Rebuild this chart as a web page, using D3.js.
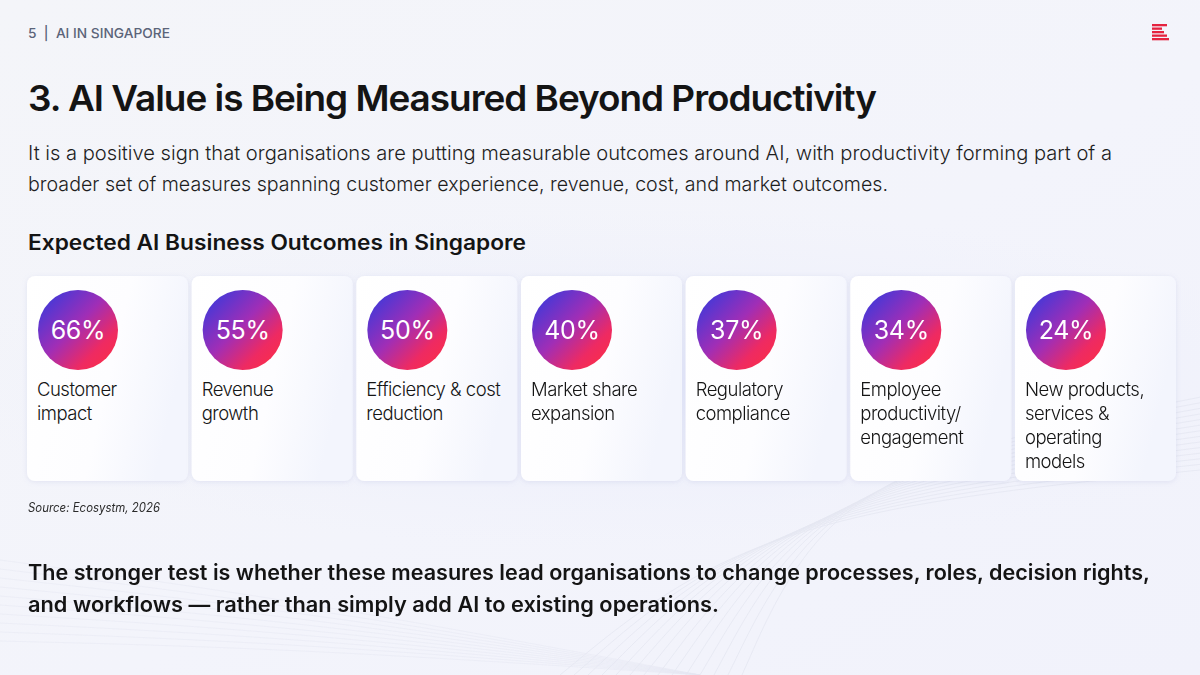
<!DOCTYPE html>
<html>
<head>
<meta charset="utf-8">
<script src="https://cdn.jsdelivr.net/npm/d3@7"></script>
<style>
  html, body { margin: 0; padding: 0; background: #f5f6fb; }
  svg { display: block; font-family: Inter, "Noto Sans", sans-serif; }
</style>
</head>
<body>
<svg id="chart" width="1200" height="675"></svg>
<script>
// ---- data ----
const categories = [
  "Customer impact",
  "Revenue growth",
  "Efficiency & cost reduction",
  "Market share expansion",
  "Regulatory compliance",
  "Employee productivity/ engagement",
  "New products, services & operating models"
];
const labelLines = [
  ["Customer", "impact"],
  ["Revenue", "growth"],
  ["Efficiency & cost", "reduction"],
  ["Market share", "expansion"],
  ["Regulatory", "compliance"],
  ["Employee", "productivity/", "engagement"],
  ["New products,", "services &", "operating", "models"]
];
const values = [66, 55, 50, 40, 37, 34, 24];
const headerText = "5  |  AI IN SINGAPORE";
const titleText = "3. AI Value is Being Measured Beyond Productivity";
const subtitleLines = [
  "It is a positive sign that organisations are putting measurable outcomes around AI, with productivity forming part of a",
  "broader set of measures spanning customer experience, revenue, cost, and market outcomes."
];
const chartTitle = "Expected AI Business Outcomes in Singapore";
const sourceText = "Source: Ecosystm, 2026";
const footerLines = [
  "The stronger test is whether these measures lead organisations to change processes, roles, decision rights,",
  "and workflows \u2014 rather than simply add AI to existing operations."
];

// ---- drawing ----
const svg = d3.select("#chart");
const W = 1200, H = 675;
const defs = svg.append("defs");

const bgGrad = defs.append("linearGradient").attr("id", "bg").attr("x1", 0).attr("y1", 0).attr("x2", 1).attr("y2", 1);
bgGrad.append("stop").attr("offset", "0%").attr("stop-color", "#f4f5f9");
bgGrad.append("stop").attr("offset", "55%").attr("stop-color", "#f3f4fb");
bgGrad.append("stop").attr("offset", "100%").attr("stop-color", "#f1f2fb");
svg.append("rect").attr("width", W).attr("height", H).attr("fill", "url(#bg)");

// soft lavender glow behind cards
const glow = defs.append("radialGradient").attr("id", "glow").attr("cx", 0.5).attr("cy", 0.5).attr("r", 0.5);
glow.append("stop").attr("offset", "0%").attr("stop-color", "#e6e9fb").attr("stop-opacity", 0.9);
glow.append("stop").attr("offset", "100%").attr("stop-color", "#eef0fb").attr("stop-opacity", 0);
svg.append("ellipse").attr("cx", 640).attr("cy", 380).attr("rx", 700).attr("ry", 170).attr("fill", "url(#glow)");

// faint decorative contour lines
const contour = svg.append("g").attr("fill", "none").attr("stroke", "#dfe2ee").attr("stroke-width", 0.8).attr("opacity", 0.7);
const lineGen = d3.line().curve(d3.curveBasis);
for (let i = 0; i < 14; i++) {
  const o = i * 14;
  contour.append("path").attr("d", lineGen([
    [560 + o, 675], [700 + o * 0.6, 560 - o * 0.2], [900 + o * 0.3, 500 - o * 0.3], [1200, 470 - o * 0.4]
  ]));
}
for (let i = 0; i < 10; i++) {
  const o = i * 18;
  contour.append("path").attr("d", lineGen([
    [0, 560 + o * 0.5], [300, 600 + o * 0.3], [700, 675]
  ])).attr("opacity", 0.6);
}

// header
svg.append("text").attr("x", 28).attr("y", 38)
  .attr("font-size", 13.5).attr("font-weight", 500).attr("fill", "#5b6479")
  .attr("xml:space", "preserve")
  .attr("textLength", 142).attr("lengthAdjust", "spacingAndGlyphs")
  .text(headerText);

// logo (stacked bars)
const logoBars = [15, 10, 12, 15, 17];
svg.append("g").selectAll("rect").data(logoBars).join("rect")
  .attr("x", 1152).attr("y", (d, i) => 24 + i * 3.5)
  .attr("width", d => d).attr("height", 2.3).attr("fill", "#e5233f");

// title
svg.append("text").attr("x", 28).attr("y", 111)
  .attr("font-size", 36).attr("font-weight", 600).attr("fill", "#141414")
  .attr("letter-spacing", -1)
  .attr("textLength", 848).attr("lengthAdjust", "spacingAndGlyphs")
  .text(titleText);

// subtitle
const subW = [1084, 860];
svg.append("g").selectAll("text").data(subtitleLines).join("text")
  .attr("x", 28).attr("y", (d, i) => 160 + i * 31)
  .attr("font-size", 20).attr("font-weight", 300).attr("fill", "#1e1e1e")
  .attr("textLength", (d, i) => subW[i]).attr("lengthAdjust", "spacingAndGlyphs")
  .text(d => d);

// chart title
svg.append("text").attr("x", 28).attr("y", 250)
  .attr("font-size", 21).attr("font-weight", 600).attr("fill", "#141414")
  .attr("textLength", 498).attr("lengthAdjust", "spacingAndGlyphs")
  .text(chartTitle);

// scales
const x = d3.scaleBand().domain(categories).range([27, 1176]).paddingInner(0.022).paddingOuter(0);
const cardTop = 276, cardH = 205;

// card fill + shadow
const cardGrad = defs.append("linearGradient").attr("id", "card").attr("x1", 0).attr("y1", 0).attr("x2", 1).attr("y2", 0.3);
cardGrad.append("stop").attr("offset", "0%").attr("stop-color", "#ffffff");
cardGrad.append("stop").attr("offset", "60%").attr("stop-color", "#fdfdff");
cardGrad.append("stop").attr("offset", "100%").attr("stop-color", "#f3f5fd");
const shadow = defs.append("filter").attr("id", "shadow").attr("x", -0.2).attr("y", -0.2).attr("width", 1.4).attr("height", 1.4);
shadow.append("feDropShadow").attr("dx", 0).attr("dy", 1).attr("stdDeviation", 2.5)
  .attr("flood-color", "#8a90c8").attr("flood-opacity", 0.18);

const circGrad = defs.append("linearGradient").attr("id", "circ").attr("x1", 0.1).attr("y1", 0.1).attr("x2", 0.9).attr("y2", 0.9);
circGrad.append("stop").attr("offset", "0%").attr("stop-color", "#4338d8");
circGrad.append("stop").attr("offset", "45%").attr("stop-color", "#a02eb6");
circGrad.append("stop").attr("offset", "80%").attr("stop-color", "#ee2a62");
circGrad.append("stop").attr("offset", "100%").attr("stop-color", "#f92d4c");

const data = categories.map((c, i) => ({ cat: c, value: values[i], lines: labelLines[i] }));

const cards = svg.append("g").selectAll("g").data(data).join("g")
  .attr("transform", d => `translate(${x(d.cat)},${cardTop})`);

cards.append("rect")
  .attr("width", x.bandwidth()).attr("height", cardH)
  .attr("rx", 8).attr("fill", "url(#card)").attr("filter", "url(#shadow)");

cards.append("circle").attr("cx", 51).attr("cy", 54).attr("r", 40).attr("fill", "url(#circ)");

cards.append("text").attr("x", 51).attr("y", 63)
  .attr("text-anchor", "middle").attr("font-size", 25).attr("font-weight", 400)
  .attr("fill", "#ffffff").attr("letter-spacing", -0.3)
  .text(d => d.value + "%");

cards.append("text")
  .attr("font-size", 18.5).attr("font-weight", 300).attr("fill", "#151515").attr("letter-spacing", -0.5)
  .selectAll("tspan").data(d => d.lines).join("tspan")
  .attr("x", 10).attr("y", (d, i) => 120 + i * 24)
  .text(d => d);

// source
svg.append("text").attr("x", 28).attr("y", 512)
  .attr("font-size", 12.5).attr("font-style", "italic").attr("fill", "#2a2a2a")
  .attr("textLength", 132).attr("lengthAdjust", "spacingAndGlyphs")
  .text(sourceText);

// footer
const footW = [1122, 691];
svg.append("g").selectAll("text").data(footerLines).join("text")
  .attr("x", 28).attr("y", (d, i) => 580 + i * 32)
  .attr("font-size", 21).attr("font-weight", 600).attr("fill", "#141414")
  .attr("textLength", (d, i) => footW[i]).attr("lengthAdjust", "spacingAndGlyphs")
  .text(d => d);
</script>
</body>
</html>
